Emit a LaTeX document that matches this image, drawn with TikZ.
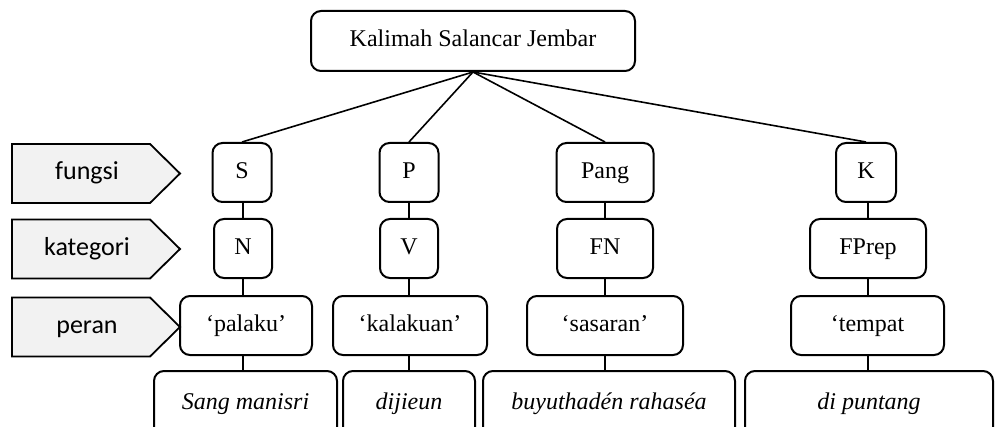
\documentclass[tikz,border=0pt]{standalone}
\usepackage{fontspec}
\setmainfont{Liberation Serif}
\newfontfamily\lblfont{Carlito}
\usetikzlibrary{positioning}
\definecolor{lblgray}{RGB}{242,242,242}

\tikzset{
  unit/.style={draw, line width=1pt, rounded corners=5pt, minimum height=29.5pt,
    inner sep=0pt, text height=8.2pt, text depth=2.6pt, font=\fontsize{12}{14}\selectfont},
  lbl/.style={draw, line width=0.9pt, fill=lblgray},
  lbltext/.style={font=\lblfont\fontsize{13}{15}\selectfont, text height=9pt, text depth=2.6pt},
  conn/.style={line width=0.8pt},
}

\begin{document}
\begin{tikzpicture}[x=0.5pt, y=-0.5pt]
\useasboundingbox (0,0) rectangle (995,427);

  % left labels
  \foreach \y/\txt in {173.5/fungsi, 249/kategori, 327/peran} {
    \draw[lbl] (12,\y-29.5) -- (150,\y-29.5) -- (180,\y) -- (150,\y+29.5) -- (12,\y+29.5) -- cycle;
    \node[lbltext] (\txt) at (87,\y) {\txt};
  }

  % root
  \node[unit, minimum width=162pt, minimum height=30pt] (kalimah) at (473,41) {Kalimah Salancar Jembar};

  % fungsi (columns x: 243, 409, 605, 868)
  \node[unit, minimum width=29.5pt] (S)    at (242,172.5) {S};
  \node[unit, minimum width=29.5pt] (P)    at (409,172.5) {P};
  \node[unit, minimum width=48.5pt] (Pang) at (605,172.5) {Pang};
  \node[unit, minimum width=30pt]   (K)    at (866,172.5) {K};

  % kategori
  \node[unit, minimum width=29pt] (N)     at (243,248.5) {N};
  \node[unit, minimum width=29pt] (V)     at (409,248.5) {V};
  \node[unit, minimum width=48pt] (FN)    at (605,248.5) {FN};
  \node[unit, minimum width=58pt] (FPrep) at (868,248.5) {FPrep};

  % peran
  \node[unit, minimum width=66pt]   (palaku)   at (246,325.5) {‘palaku’};
  \node[unit, minimum width=77pt]   (kalakuan) at (410,325.5) {‘kalakuan’};
  \node[unit, minimum width=78pt]   (sasaran)  at (605,325.5) {‘sasaran’};
  \node[unit, minimum width=76.5pt] (tempat)   at (867.5,325.5) {‘tempat};

  % kecap (cut off at the bottom)
  \node[unit, minimum width=91.5pt, minimum height=33pt] (sang)    at (245.5,404) {\itshape Sang manisri};
  \node[unit, minimum width=66pt,   minimum height=33pt] (dijieun) at (409,404)   {\itshape dijieun};
  \node[unit, minimum width=126pt,  minimum height=33pt] (buyuth)  at (609,404)   {\itshape buyuthadén rahaséa};
  \node[unit, minimum width=124pt,  minimum height=33pt] (puntang) at (869,404)   {\itshape di puntang};

  % connectors
  \foreach \c in {S, P, Pang, K}
    \draw[conn] (kalimah.south) -- (\c.north);
  \foreach \a/\b/\x in {S/N/243, P/V/409, Pang/FN/605, K/FPrep/868,
                        N/palaku/243, V/kalakuan/409, FN/sasaran/605, FPrep/tempat/868,
                        palaku/sang/243, kalakuan/dijieun/409, sasaran/buyuth/605, tempat/puntang/868}
    \draw[conn] (\a.south -| \x,0) -- (\b.north -| \x,0);
\end{tikzpicture}
\end{document}
